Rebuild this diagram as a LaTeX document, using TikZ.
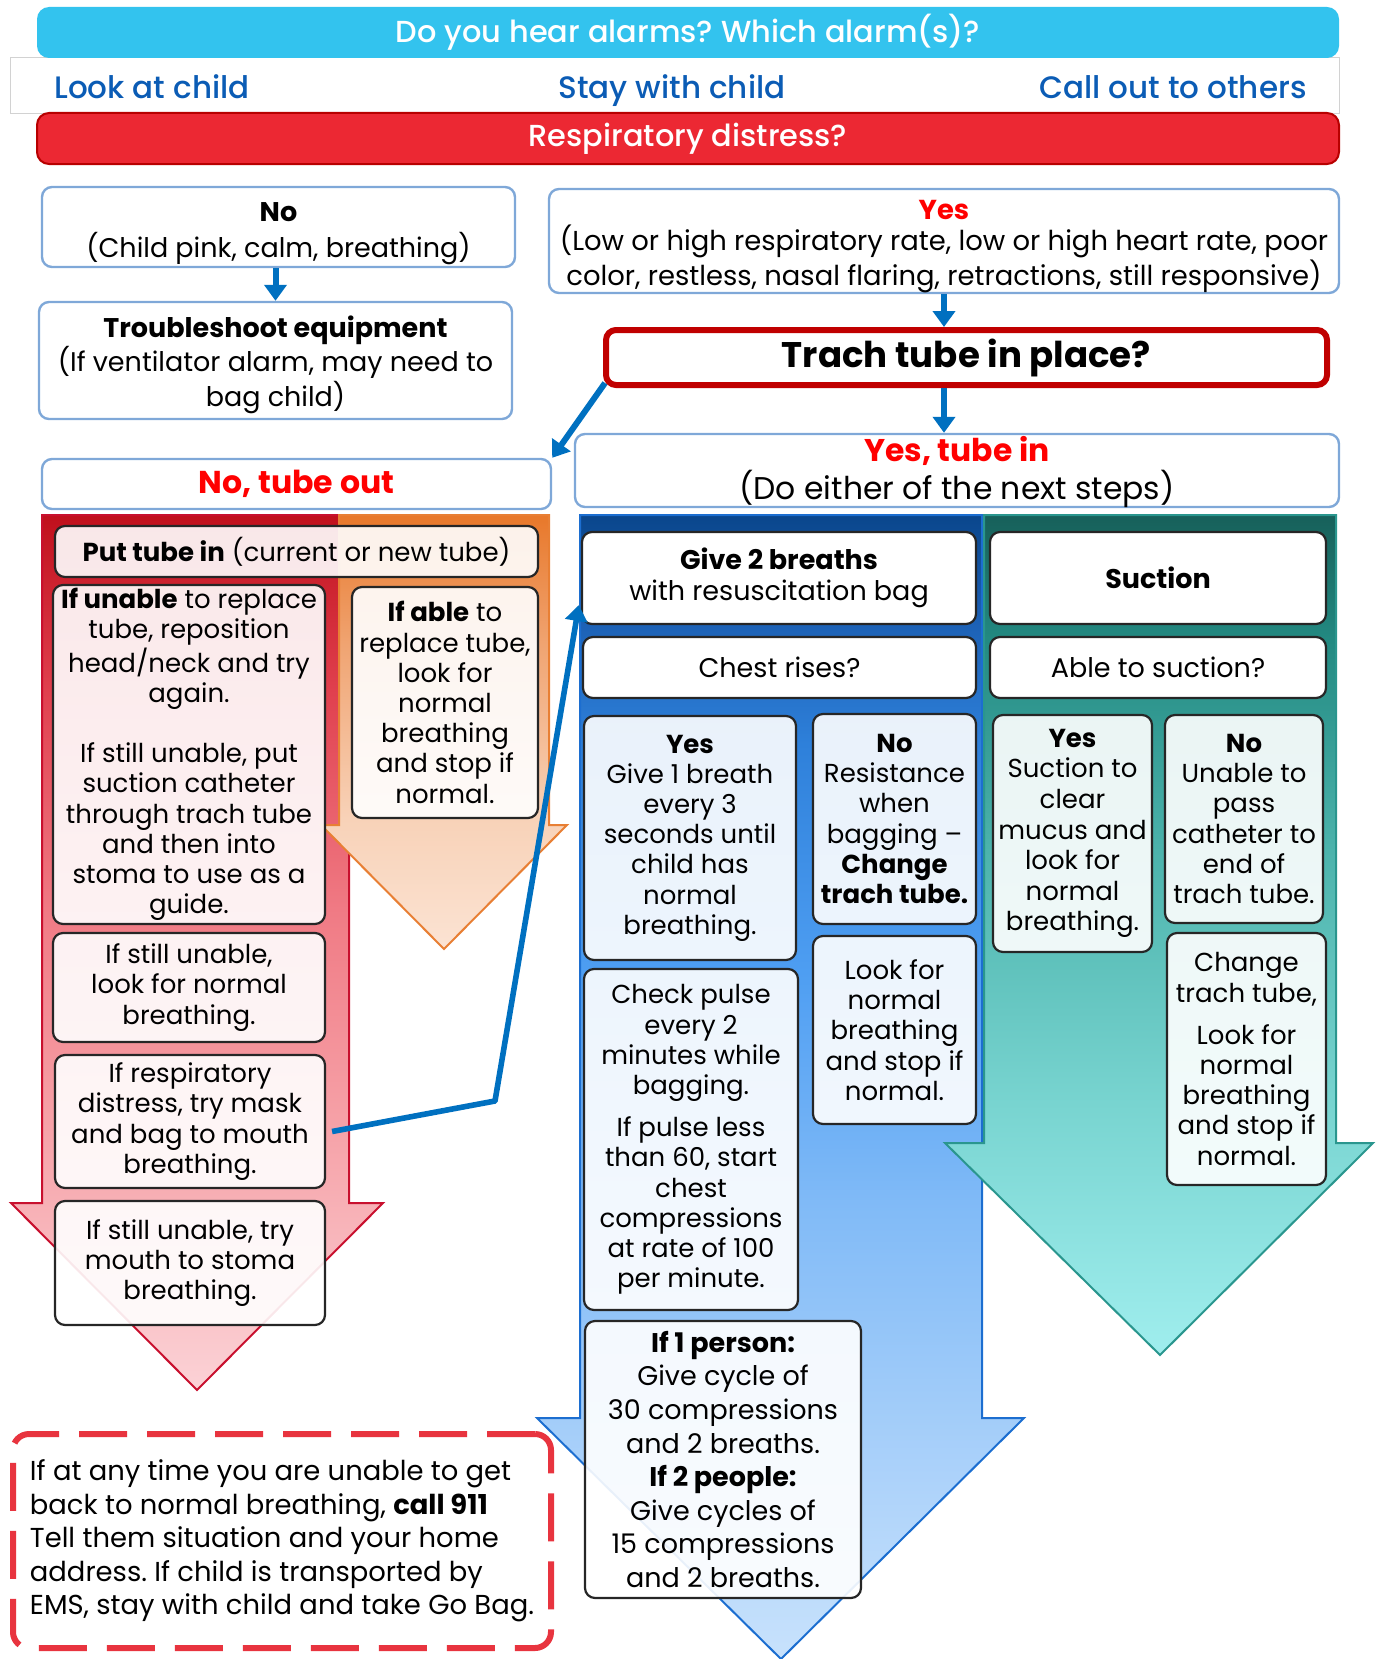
\documentclass[tikz,border=0pt]{standalone}
\usepackage{fontspec}
\setmainfont{Poppins}
\newfontfamily\medfont{Poppins Medium}
\frenchspacing
\usetikzlibrary{arrows.meta,calc}

\definecolor{alarmcyan}{HTML}{33C3EE}
\definecolor{stripblue}{HTML}{0B5CB5}
\definecolor{distred}{HTML}{EC2833}
\definecolor{distedge}{HTML}{B80000}
\definecolor{boxblue}{HTML}{7FA8D8}
\definecolor{yesred}{HTML}{FF0000}
\definecolor{flowblue}{HTML}{0070C0}
\definecolor{trachred}{HTML}{C00000}
\definecolor{dashred}{HTML}{E8343F}
% block arrow shades
\definecolor{red0}{HTML}{C0101C}\definecolor{red1}{HTML}{E0404E}\definecolor{red2}{HTML}{F07A84}
\definecolor{red3}{HTML}{F6A2A8}\definecolor{red4}{HTML}{FBD2D6}\definecolor{rededge}{HTML}{C8102E}
\definecolor{org0}{HTML}{E8782A}\definecolor{org1}{HTML}{F0A472}\definecolor{org2}{HTML}{F8D2B8}
\definecolor{org3}{HTML}{FBE3D3}\definecolor{orgedge}{HTML}{E87F34}
\definecolor{blu0}{HTML}{0A468C}\definecolor{blu1}{HTML}{1A5DB0}\definecolor{blu2}{HTML}{2E80DA}
\definecolor{blu3}{HTML}{4E9EF2}\definecolor{blu4}{HTML}{80BAF7}\definecolor{blu5}{HTML}{AED3FA}
\definecolor{blu6}{HTML}{C8E2FC}\definecolor{bluedge}{HTML}{1C6ED0}
\definecolor{teal0}{HTML}{17605A}\definecolor{teal1}{HTML}{238A82}\definecolor{teal2}{HTML}{4CB3AC}
\definecolor{teal3}{HTML}{78D4D0}\definecolor{teal4}{HTML}{A0EEEE}\definecolor{tealedge}{HTML}{2A968E}
\pgfdeclareverticalshading{redshade}{100bp}{color(0bp)=(red4); color(25bp)=(red4); color(40bp)=(red3);
	color(52.5bp)=(red2); color(65bp)=(red1); color(75bp)=(red0); color(100bp)=(red0)}
\pgfdeclareverticalshading{orgshade}{100bp}{color(0bp)=(org3); color(25bp)=(org3); color(40bp)=(org2);
	color(60bp)=(org1); color(75bp)=(org0); color(100bp)=(org0)}
\pgfdeclareverticalshading{blushade}{100bp}{color(0bp)=(blu6); color(25bp)=(blu6); color(32.5bp)=(blu5);
	color(45bp)=(blu4); color(55bp)=(blu3); color(65bp)=(blu2); color(71bp)=(blu1); color(75bp)=(blu0); color(100bp)=(blu0)}
\pgfdeclareverticalshading{tealshade}{100bp}{color(0bp)=(teal4); color(25bp)=(teal4); color(40bp)=(teal3);
	color(55bp)=(teal2); color(67.5bp)=(teal1); color(75bp)=(teal0); color(100bp)=(teal0)}

\begin{document}
\begin{tikzpicture}[x=0.5pt,y=-0.5pt,
	wh/.style 2 args={minimum width=#1*0.5pt,minimum height=#2*0.5pt},
	bar/.style={rounded corners=6pt,inner sep=0pt,text=white,font=\medfont\fontsize{15.2}{18}\selectfont},
	striptext/.style={anchor=base,text=stripblue,font=\medfont\fontsize{15.5}{18}\selectfont},
	topbox/.style={draw=boxblue,line width=1.2pt,rounded corners=5pt,fill=white,align=center,inner sep=0pt},
	boxtext/.style={align=center,inner sep=0pt},
	stepbox/.style={draw=black!85,line width=1.1pt,rounded corners=5pt,fill=white,fill opacity=0.9,text opacity=1,
		align=center,inner sep=0pt,font=\fontsize{13}{15.1}\selectfont},
	flow/.style={draw=flowblue,line width=3pt,-{Triangle[width=11pt,length=8pt]}}]
	\useasboundingbox (0,0) rectangle (1379,1659);
	%
	\node[draw=gray!35,line width=0.5pt,fill=white,wh={1329}{56}] (strip) at (674.5,86) {};
	\node[bar,fill=alarmcyan,wh={1302}{51}] (alarms) at (688,32.5) {Do you hear alarms? Which alarm(s)?};
	\node[bar,fill=distred,draw=distedge,line width=1pt,wh={1302}{51}] (distress) at (688,138.5) {Respiratory distress?};
	\node[striptext] (look) at (152,98) {Look at child};
	\node[striptext] (stay) at (672,98) {Stay with child};
	\node[striptext] (callout) at (1173,98) {Call out to others};
	%
	\node[topbox,wh={473}{80}] (nobox) at (278.5,227) {};
	\node[boxtext,font=\fontsize{13.5}{18}\selectfont] (nobox-t) at ($(nobox)+(0,7)$)
		{\textbf{No}\\(Child pink, calm, breathing)};
	\node[topbox,wh={473}{117}] (trouble) at (275.5,360.5) {};
	\node[boxtext,font=\fontsize{13.5}{17.2}\selectfont] (trouble-t) at ($(trouble)+(0,4)$)
		{\textbf{Troubleshoot equipment}\\(If ventilator alarm, may need to\\bag child)};
	\node[topbox,wh={790}{104}] (yesbox) at (944,241) {};
	\node[boxtext,font=\fontsize{13.7}{15.5}\selectfont] (yesbox-t) at ($(yesbox)+(0,6)$)
		{\textcolor{yesred}{\textbf{Yes}}\\(Low or high respiratory rate, low or high heart rate, poor\\color, restless, nasal flaring, retractions, still responsive)};
	\node[topbox,draw=trachred,line width=3pt,wh={721}{55},font=\bfseries\fontsize{17.8}{20}\selectfont] (trach) at (966.5,357.5)
		{Trach tube in place?};
	\node[topbox,wh={509}{50},font=\bfseries\fontsize{15.8}{19}\selectfont,text=yesred] (tubeout) at (296.5,484) {No, tube out};
	\node[topbox,wh={764}{73}] (tubein) at (957,470.5) {};
	\node[boxtext,font=\fontsize{15.7}{19}\selectfont] (tubein-t) at ($(tubein)+(0,2)$)
		{\textcolor{yesred}{\textbf{Yes, tube in}}\\(Do either of the next steps)};
	%
	\draw[flow] (nobox.south -| trouble.north) -- (trouble.north);
	\draw[flow] (yesbox.south) -- (yesbox.south |- trach.north);
	\draw[flow] (trach.south -| yesbox.south) -- (tubein.north -| yesbox.south);
	\draw[flow] ($(trach.south west)+(2,-5)$) -- (tubeout.north east);
	%
	% block arrows
	\shadedraw[shading=redshade,draw=rededge,line width=1pt]
		(42,515) -- (349,515) -- (349,1203) -- (383,1203) -- (197,1390) -- (11,1203) -- (42,1203) -- cycle;
	\shadedraw[shading=orgshade,draw=orgedge,line width=1pt]
		(339,515) -- (549,515) -- (549,825) -- (567,825) -- (444,949) -- (321,825) -- (339,825) -- cycle;
	\shadedraw[shading=blushade,draw=bluedge,line width=1pt]
		(580,515) -- (982,515) -- (982,1418) -- (1024,1418) -- (781,1659) -- (537,1418) -- (580,1418) -- cycle;
	\shadedraw[shading=tealshade,draw=tealedge,line width=1pt]
		(984,515) -- (1336,515) -- (1336,1143) -- (1373,1143) -- (1160,1355) -- (945,1143) -- (984,1143) -- cycle;
	%
	\node[stepbox,wh={483}{51}] (puttube) at (296.5,551.5) {\textbf{Put tube in} (current or new tube)};
	\node[stepbox,wh={272}{339}] (unable) at (189,754.5)
		{\textbf{If unable} to replace\\tube, reposition\\head/neck and try\\again.\\[15.1pt]If still unable, put\\suction catheter\\through trach tube\\and then into\\stoma to use as a\\guide.};
	\node[stepbox,wh={186}{231}] (able) at (445,702.5)
		{\textbf{If able} to\\replace tube,\\look for\\normal\\breathing\\and stop if\\normal.};
	\node[stepbox,wh={272}{109}] (stilllook) at (189,987.5) {If still unable,\\look for normal\\breathing.};
	\node[stepbox,wh={270}{133}] (resp) at (190,1121.5) {If respiratory\\distress, try mask\\and bag to mouth\\breathing.};
	\node[stepbox,wh={270}{124}] (stilltry) at (190,1263) {If still unable, try\\mouth to stoma\\breathing.};
	\node[draw=dashred,line width=3pt,dash pattern=on 24pt off 10pt,rounded corners=8pt,fill=white,wh={538}{214},
		align=left,inner sep=0pt,font=\fontsize{13.7}{16.8}\selectfont] (call) at (282,1541)
		{If at any time you are unable to get\\back to normal breathing, \textbf{call 911}\\Tell them situation and your home\\address. If child is transported by\\EMS, stay with child and take Go Bag.};
	%
	\node[stepbox,fill opacity=1,wh={394}{92},font=\fontsize{13.5}{15.5}\selectfont] (give) at (779,578)
		{\textbf{Give 2 breaths}\\with resuscitation bag};
	\node[stepbox,fill opacity=1,wh={336}{92},font=\bfseries\fontsize{13.5}{15.5}\selectfont] (suction) at (1158,578) {Suction};
	\node[stepbox,fill opacity=1,wh={393}{61},font=\fontsize{13.5}{15.5}\selectfont] (chest) at (779.5,667.5) {Chest rises?};
	\node[stepbox,fill opacity=1,wh={336}{61},font=\fontsize{13.5}{15.5}\selectfont] (ablesuc) at (1158,667.5) {Able to suction?};
	\node[stepbox,wh={212}{244}] (yesbag) at (690,838)
		{\textbf{Yes}\\Give 1 breath\\every 3\\seconds until\\child has\\normal\\breathing.};
	\node[stepbox,wh={163}{210}] (nobag) at (894.5,819)
		{\textbf{No}\\Resistance\\when\\bagging --\\\textbf{Change}\\\textbf{trach tube.}};
	\node[stepbox,wh={163}{188}] (lookbag) at (894.5,1030)
		{Look for\\normal\\breathing\\and stop if\\normal.};
	\node[stepbox,wh={214}{341}] (pulse) at (691,1139.5)
		{Check pulse\\every 2\\minutes while\\bagging.\\[6pt]If pulse less\\than 60, start\\chest\\compressions\\at rate of 100\\per minute.};
	\node[stepbox,wh={276}{277},font=\fontsize{13.5}{16.8}\selectfont] (person) at (723,1459.5)
		{\textbf{If 1 person:}\\Give cycle of\\30 compressions\\and 2 breaths.\\\textbf{If 2 people:}\\Give cycles of\\15 compressions\\and 2 breaths.};
	\node[stepbox,wh={159}{237},font=\fontsize{13}{15.3}\selectfont] (yessuc) at (1072.5,833.5)
		{\textbf{Yes}\\Suction to\\clear\\mucus and\\look for\\normal\\breathing.};
	\node[stepbox,wh={158}{208}] (nosuc) at (1244,819)
		{\textbf{No}\\Unable to\\pass\\catheter to\\end of\\trach tube.};
	\node[stepbox,wh={159}{252}] (change) at (1246.5,1059)
		{Change\\trach tube,\\[6pt]Look for\\normal\\breathing\\and stop if\\normal.};
	%
	\coordinate (bend) at (495,1101);
	\draw[flow,line width=2.8pt,line join=round] ($(resp.east)+(6,10)$) -- (bend) -- ($(give.west)+(-2,27)$);
\end{tikzpicture}
\end{document}
